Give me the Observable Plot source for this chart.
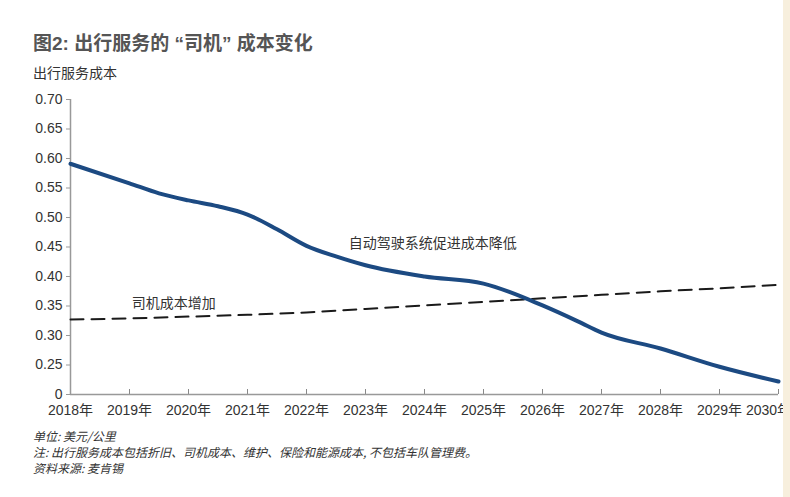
<!DOCTYPE html>
<html>
<head>
<meta charset="utf-8">
<script src="https://cdn.jsdelivr.net/npm/d3@7"></script>
<script src="https://cdn.jsdelivr.net/npm/@observablehq/plot@0.6"></script>
<style>
  body { margin: 0; background: #fff; }
  #wrap { position: relative; width: 790px; height: 497px; overflow: hidden; background: #fff;
          font-family: "Liberation Sans", "Noto Sans CJK SC", sans-serif; }
  #title { position: absolute; left: 33px; top: 32px; font-size: 19px; line-height: 24px; font-weight: bold;
           color: #555; font-family: "Liberation Sans", "Noto Sans CJK SC", sans-serif; white-space: nowrap; }
  #subtitle { position: absolute; left: 33px; top: 62px; font-size: 14px; line-height: 20px; color: #333;
              font-family: "Noto Sans CJK SC", sans-serif; }
  #chart { position: absolute; left: 0; top: 85px; }
  #notes { position: absolute; left: 33px; top: 428px; font-size: 12px; line-height: 16px; color: #333;
           font-style: italic; font-family: "Noto Sans CJK SC", sans-serif; }
  #strip { position: absolute; left: 783px; top: 0; width: 7px; height: 497px; background: #f7efdd; z-index: 5; }
</style>
</head>
<body>
<div id="wrap">
  <div id="title"></div>
  <div id="subtitle"></div>
  <div id="chart"></div>
  <div id="notes"></div>
  <div id="strip"></div>
</div>
<script>
// ---- text ----
const titleText = "图2: 出行服务的 “司机” 成本变化";
const subtitleText = "出行服务成本";
const noteLines = [
  "单位: 美元/公里",
  "注: 出行服务成本包括折旧、司机成本、维护、保险和能源成本, 不包括车队管理费。",
  "资料来源: 麦肯锡"
];

// ---- axes ----
const tickYears = [2018, 2019, 2020, 2021, 2022, 2023, 2024, 2025, 2026, 2027, 2028, 2029, 2030];
const yTicks = [0.2, 0.25, 0.3, 0.35, 0.4, 0.45, 0.5, 0.55, 0.6, 0.65, 0.7];
const yTickLabels = ["0", "0.25", "0.30", "0.35", "0.40", "0.45", "0.50", "0.55", "0.60", "0.65", "0.70"];

// ---- series: autonomous driving cost (solid blue) ----
const autoYears = [2018, 2019, 2019.5, 2020, 2020.5, 2021, 2021.5, 2022, 2022.5, 2023, 2024, 2025, 2026, 2026.6, 2027, 2028, 2029, 2030];
const autoCost  = [0.591, 0.558, 0.541, 0.529, 0.519, 0.505, 0.480, 0.452, 0.434, 0.419, 0.400, 0.388, 0.351, 0.324, 0.305, 0.278, 0.247, 0.222];

// ---- series: driver cost (dashed) ----
const driverYears = [2018, 2019, 2020, 2021, 2022, 2023, 2024, 2025, 2026, 2027, 2028, 2029, 2030];
const driverCost  = [0.327, 0.329, 0.332, 0.335, 0.339, 0.345, 0.351, 0.357, 0.363, 0.369, 0.375, 0.380, 0.386];

// ---- annotations ----
const annoText = ["自动驾驶系统促进成本降低", "司机成本增加"];
const annoYear = [2024.14, 2019.75];
const annoValue = [0.456, 0.354];

document.getElementById("title").textContent = titleText;
document.getElementById("subtitle").textContent = subtitleText;
document.getElementById("notes").innerHTML = noteLines.map(s => `<div>${s}</div>`).join("");

const autoData = autoYears.map((x, i) => ({x, y: autoCost[i]}));
const driverData = driverYears.map((x, i) => ({x, y: driverCost[i]}));
const annoData = annoText.map((t, i) => ({t, x: annoYear[i], y: annoValue[i]}));

const fmtY = d => yTickLabels[yTicks.findIndex(v => Math.abs(v - d) < 1e-9)];
const fmtX = d => d + "年";
const lastYear = tickYears[tickYears.length - 1];
const yMin = yTicks[0];
const tickLen = 5 * (0.5 / 295); // 5px inward tick length in data units

const chart = Plot.plot({
  width: 790,
  height: 339,
  marginTop: 14,
  marginBottom: 30,
  marginLeft: 70,
  marginRight: 12,
  style: {fontSize: "14px", fontFamily: "'Liberation Sans', 'Noto Sans CJK SC', sans-serif", color: "#333", background: "transparent", overflow: "visible"},
  x: {domain: [2018, 2030]},
  y: {domain: [0.2, 0.7]},
  marks: [
    Plot.axisY({ticks: yTicks, tickFormat: fmtY, tickSize: 4, tickPadding: 4, label: null, stroke: "#999", fill: "#333", fontSize: 14}),
    Plot.axisX({ticks: tickYears.slice(0, -1), tickFormat: fmtX, tickSize: 0, tickPadding: 11, label: null, fill: "#333", fontSize: 14}),
    Plot.axisX({ticks: [lastYear], tickFormat: fmtX, tickSize: 0, tickPadding: 11, dx: -10, label: null, fill: "#333", fontSize: 14}),
    Plot.ruleX(tickYears.slice(1), {x: d => d, y1: yMin, y2: yMin + tickLen, stroke: "#888", strokeWidth: 1}),
    Plot.ruleX([2018], {stroke: "#999", strokeWidth: 1.5}),
    Plot.ruleY([0.2], {stroke: "#999", strokeWidth: 1.5}),
    Plot.line(driverData, {x: "x", y: "y", stroke: "#1a1a1a", strokeWidth: 2, strokeDasharray: "13,8"}),
    Plot.line(autoData, {x: "x", y: "y", stroke: "#1c4a82", strokeWidth: 4, curve: "monotone-x"}),
    Plot.text(annoData, {x: "x", y: "y", text: "t", fill: "#333", fontSize: 14, fontFamily: "'Noto Sans CJK SC', sans-serif"})
  ]
});
document.getElementById("chart").appendChild(chart);
</script>
</body>
</html>
